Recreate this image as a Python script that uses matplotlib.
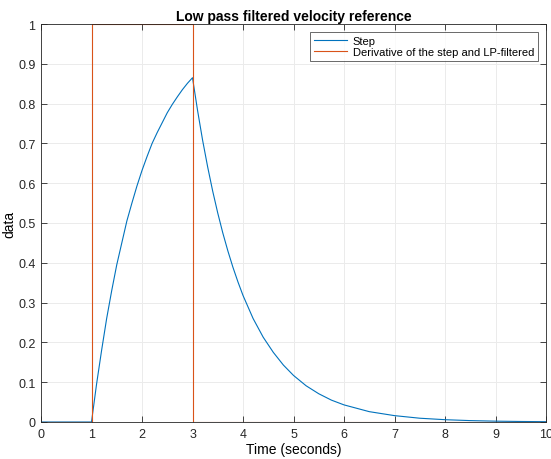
import matplotlib
matplotlib.use("Agg")
import matplotlib.pyplot as plt

plt.rcParams['font.family'] = ['Liberation Sans', 'DejaVu Sans']

# filtered velocity reference (rise while the pulse is on, decay after it)
t_filt = [0, 1.0, 1.1, 1.2, 1.3, 1.4, 1.5, 1.6, 1.7, 1.8, 1.9, 2.0,
          2.1, 2.2, 2.3, 2.4, 2.5, 2.6, 2.7, 2.8, 2.9, 3.0,
          3.1, 3.2, 3.3, 3.4, 3.5, 3.6, 3.7, 3.8, 3.9, 4.0,
          4.2, 4.4, 4.6, 4.8, 5.0, 5.25, 5.5, 5.75, 6.0, 6.5, 7.0,
          7.5, 8.0, 8.5, 9.0, 9.5, 10.0]
v_filt = [0, 0.0, 0.095, 0.18, 0.26, 0.33, 0.395, 0.45, 0.505, 0.55, 0.593, 0.632,
          0.667, 0.70, 0.727, 0.752, 0.777, 0.798, 0.817, 0.835, 0.851, 0.865,
          0.783, 0.708, 0.641, 0.58, 0.525, 0.475, 0.43, 0.389, 0.352, 0.318,
          0.26, 0.213, 0.175, 0.143, 0.117, 0.091, 0.071, 0.055, 0.043, 0.026, 0.016,
          0.0095, 0.0058, 0.0035, 0.0021, 0.0013, 0.0008]

# rectangular pulse
t_pulse = [0, 1, 1, 3, 3, 10]
v_pulse = [0, 0, 1, 1, 0, 0]

blue = '#0072BD'
orange = '#D95319'

fig = plt.figure(figsize=(5.51, 4.60), dpi=100)
ax = fig.add_axes([41/551, 37/460, 505/551, 398/460])

ax.plot(t_filt, v_filt, color=blue, lw=0.8, label='Step')
ax.plot(t_pulse, v_pulse, color=orange, lw=0.8, label='Derivative of the step and LP-filtered')

ax.set_xlim(0, 10)
ax.set_ylim(0, 1)
ax.set_xticks(range(0, 11))
ax.set_yticks([i / 10 for i in range(11)])
ax.set_yticklabels(['0', '0.1', '0.2', '0.3', '0.4', '0.5', '0.6', '0.7', '0.8', '0.9', '1'])
ax.grid(True, color='#ebebeb', lw=0.7)
ax.set_axisbelow(True)
ax.tick_params(direction='in', length=4, width=0.6, colors='#262626', labelsize=9,
               top=True, right=True, pad=4)
for s in ax.spines.values():
    s.set_color('#262626')
    s.set_linewidth(0.6)

ax.set_xlabel('Time (seconds)', fontsize=10, labelpad=2)
ax.set_ylabel('data', fontsize=10, labelpad=1)
ax.set_title('Low pass filtered velocity reference', fontsize=10, fontweight='bold', pad=3)

leg = ax.legend(loc='upper right', fontsize=8, frameon=True, fancybox=False,
                borderaxespad=0.7, handlelength=3.0, handletextpad=0.5,
                borderpad=0.35, labelspacing=0.15)
leg.get_frame().set_edgecolor('#262626')
leg.get_frame().set_linewidth(0.6)

fig.savefig('out.png', dpi=100)
